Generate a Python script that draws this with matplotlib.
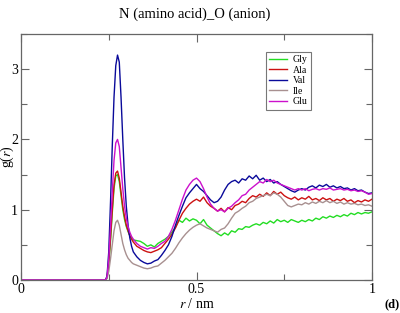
import matplotlib
matplotlib.use("Agg")
import matplotlib.pyplot as plt
from matplotlib.ticker import MultipleLocator

plt.rcParams['font.family'] = ['Liberation Serif', 'DejaVu Serif']
plt.rcParams['mathtext.fontset'] = 'stix'

# radial distance (nm)
r = [0.0,
     0.24, 0.245, 0.25, 0.255, 0.26, 0.265, 0.27, 0.275, 0.28, 0.285, 0.29, 0.295, 0.30, 0.305, 0.31, 0.315, 0.32,
     0.33, 0.34, 0.35, 0.36, 0.37, 0.38, 0.39, 0.40, 0.41, 0.42, 0.43, 0.44, 0.45, 0.46, 0.47, 0.48, 0.49, 0.50,
     0.51, 0.52, 0.53, 0.54, 0.55, 0.56, 0.57, 0.58, 0.59, 0.60, 0.61, 0.62, 0.63, 0.64, 0.65, 0.66, 0.67, 0.68, 0.69, 0.70, 0.71, 0.72, 0.73, 0.74, 0.75,
     0.76, 0.77, 0.78, 0.79, 0.80, 0.81, 0.82, 0.83, 0.84, 0.85, 0.86, 0.87, 0.88, 0.89, 0.90, 0.91, 0.92, 0.93, 0.94, 0.95, 0.96, 0.97, 0.98, 0.99, 1.00]

gly = [0.0,
       0.0, 0.03, 0.22, 0.55, 0.95, 1.30, 1.48, 1.50, 1.40, 1.20, 1.00, 0.86, 0.76, 0.69, 0.63, 0.60, 0.57,
       0.56, 0.55, 0.52, 0.48, 0.50, 0.47, 0.52, 0.55, 0.58, 0.62, 0.68, 0.75, 0.85, 0.82, 0.88, 0.84, 0.87, 0.85,
       0.80, 0.86, 0.78, 0.74, 0.70, 0.66, 0.63, 0.67, 0.64, 0.70, 0.68, 0.73, 0.72, 0.76, 0.75, 0.78, 0.80, 0.78, 0.82, 0.80, 0.84, 0.81, 0.86, 0.83, 0.85,
       0.82, 0.86, 0.84, 0.82, 0.85, 0.83, 0.86, 0.84, 0.88, 0.86, 0.90, 0.88, 0.91, 0.89, 0.92, 0.90, 0.93, 0.91, 0.95, 0.93, 0.96, 0.94, 0.96, 0.95, 0.97]

ala = [0.0,
       0.0, 0.03, 0.25, 0.60, 1.00, 1.35, 1.52, 1.55, 1.45, 1.25, 1.05, 0.90, 0.78, 0.70, 0.63, 0.58, 0.54,
       0.48, 0.45, 0.42, 0.40, 0.39, 0.41, 0.43, 0.46, 0.52, 0.58, 0.65, 0.74, 0.85, 0.95, 1.02, 1.08, 1.12, 1.15,
       1.12, 1.18, 1.10, 1.05, 1.02, 0.98, 1.02, 0.97, 1.03, 1.00, 1.06, 1.08, 1.12, 1.10, 1.16, 1.20, 1.18, 1.22, 1.19, 1.24, 1.20, 1.26, 1.22, 1.25, 1.20,
       1.17, 1.15, 1.18, 1.14, 1.17, 1.15, 1.19, 1.14, 1.16, 1.13, 1.17, 1.14, 1.16, 1.12, 1.15, 1.13, 1.16, 1.12, 1.14, 1.10, 1.13, 1.11, 1.14, 1.12, 1.15]

val = [0.0,
       0.0, 0.05, 0.40, 1.10, 1.90, 2.60, 3.05, 3.20, 3.10, 2.60, 2.00, 1.45, 1.05, 0.78, 0.60, 0.48, 0.40,
       0.33, 0.28, 0.25, 0.23, 0.24, 0.27, 0.29, 0.35, 0.42, 0.50, 0.62, 0.78, 0.92, 1.05, 1.17, 1.24, 1.30, 1.36,
       1.30, 1.26, 1.20, 1.14, 1.10, 1.12, 1.18, 1.28, 1.36, 1.40, 1.42, 1.38, 1.44, 1.42, 1.48, 1.44, 1.49, 1.42, 1.45, 1.40, 1.43, 1.38, 1.40, 1.36, 1.33,
       1.30, 1.27, 1.25, 1.28, 1.30, 1.28, 1.32, 1.34, 1.31, 1.35, 1.33, 1.36, 1.32, 1.34, 1.31, 1.33, 1.30, 1.31, 1.28, 1.30, 1.27, 1.28, 1.25, 1.23, 1.24]

ile = [0.0,
       0.0, 0.02, 0.12, 0.30, 0.50, 0.70, 0.82, 0.85, 0.78, 0.65, 0.52, 0.43, 0.36, 0.31, 0.28, 0.25, 0.23,
       0.21, 0.19, 0.17, 0.16, 0.17, 0.19, 0.20, 0.24, 0.28, 0.33, 0.38, 0.45, 0.53, 0.60, 0.66, 0.71, 0.75, 0.78,
       0.80, 0.77, 0.74, 0.72, 0.70, 0.68, 0.72, 0.74, 0.80, 0.88, 0.95, 0.98, 1.02, 1.05, 1.10, 1.12, 1.16, 1.18, 1.20, 1.22, 1.20, 1.24, 1.22, 1.18, 1.12,
       1.06, 1.04, 1.06, 1.08, 1.07, 1.10, 1.08, 1.11, 1.09, 1.12, 1.10, 1.13, 1.10, 1.12, 1.09, 1.11, 1.08, 1.10, 1.08, 1.09, 1.07, 1.08, 1.06, 1.07, 1.05]

glu = [0.0,
       0.0, 0.04, 0.30, 0.75, 1.25, 1.70, 1.95, 2.00, 1.90, 1.60, 1.30, 1.05, 0.88, 0.76, 0.68, 0.62, 0.58,
       0.52, 0.48, 0.46, 0.44, 0.46, 0.45, 0.48, 0.52, 0.55, 0.62, 0.72, 0.85, 1.00, 1.15, 1.28, 1.36, 1.42, 1.45,
       1.40, 1.30, 1.18, 1.08, 1.02, 0.98, 1.00, 0.97, 1.02, 1.05, 1.10, 1.14, 1.20, 1.22, 1.28, 1.32, 1.36, 1.40, 1.38, 1.43, 1.40, 1.42, 1.38, 1.36, 1.34,
       1.32, 1.30, 1.28, 1.30, 1.28, 1.30, 1.27, 1.29, 1.30, 1.28, 1.30, 1.29, 1.31, 1.28, 1.29, 1.30, 1.28, 1.29, 1.27, 1.28, 1.26, 1.27, 1.25, 1.22, 1.23]

series_names = ['Gly', 'Ala', 'Val', 'Ile', 'Glu']
series_data = [gly, ala, val, ile, glu]
series_colors = ['#22dd22', '#cc1111', '#0a0a9a', '#a89090', '#cc11cc']

fig = plt.figure(figsize=(4.0, 3.13), dpi=100)
ax = fig.add_axes([0.0525, 0.1054, 0.8775, 0.786])

for name, g, c in zip(series_names, series_data, series_colors):
    ax.plot(r, g, color=c, linewidth=1.0, label=name)

ax.set_xlim(0, 1)
ax.set_ylim(0, 3.5)
ax.set_xticks([0, 0.5, 1])
ax.set_xticklabels(['0', '0.5', '1'])
ax.xaxis.set_minor_locator(MultipleLocator(0.25))
ax.set_yticks([0, 1, 2, 3])
ax.set_yticklabels(['0', '1', '2', '3'])
ax.yaxis.set_minor_locator(MultipleLocator(0.5))
ax.tick_params(which='both', direction='in', top=True, right=True,
               color='#666666', labelsize=10, pad=2)
ax.tick_params(which='major', length=6, width=0.8)
ax.tick_params(which='minor', length=4, width=0.8)
for sp in ax.spines.values():
    sp.set_color('#666666')
    sp.set_linewidth(0.9)

ax.set_xlabel(r'$r$ / nm', fontsize=10, labelpad=1)
ax.set_ylabel(r'g($r$)', fontsize=10)
ax.yaxis.set_label_coords(-0.015, 0.5)
fig.text(0.4875, 0.975, 'N (amino acid)_O (anion)', ha='center', va='top', fontsize=10.5)

leg = ax.legend(loc='upper left', bbox_to_anchor=(266 / 400, 1 - 52 / 313),
                bbox_transform=fig.transFigure, fontsize=7, frameon=True,
                fancybox=False, handlelength=1.8, handletextpad=0.6,
                labelspacing=0.15, borderpad=0.35, borderaxespad=0)
leg.get_frame().set_edgecolor('#555555')
leg.get_frame().set_linewidth(0.8)

fig.text(0.998, 0.008, '(d)', ha='right', va='bottom', fontsize=9, fontweight='bold')

fig.savefig('out.png', dpi=100)
